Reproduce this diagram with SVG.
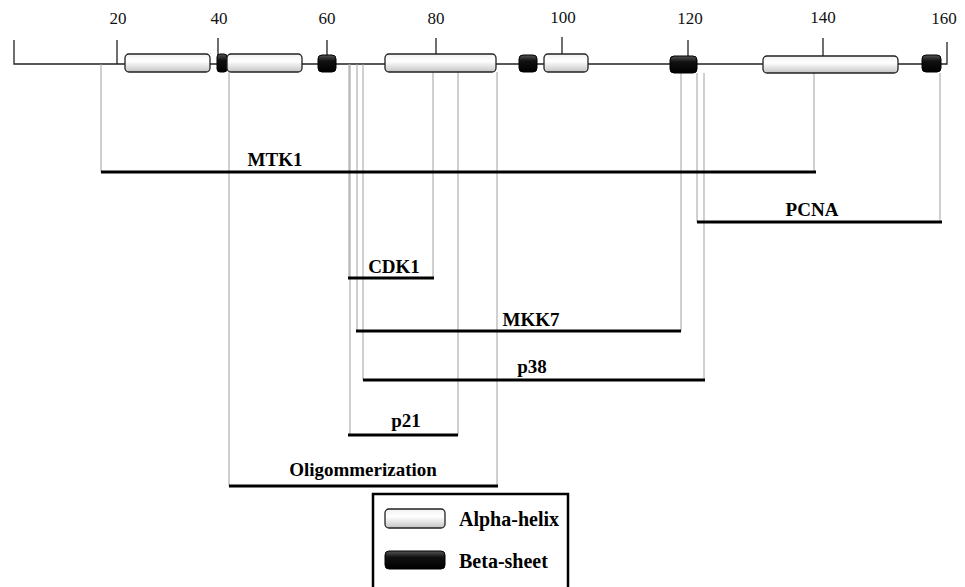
<svg xmlns="http://www.w3.org/2000/svg" width="965" height="587" viewBox="0 0 965 587">
<defs>
<linearGradient id="ga" x1="0" y1="0" x2="0" y2="1">
<stop offset="0" stop-color="#f2f2f2"/><stop offset="0.4" stop-color="#ffffff"/><stop offset="1" stop-color="#c4c4c4"/>
</linearGradient>
<linearGradient id="gb" x1="0" y1="0" x2="0" y2="1">
<stop offset="0" stop-color="#555"/><stop offset="0.35" stop-color="#111"/><stop offset="1" stop-color="#000"/>
</linearGradient>
</defs>
<style>
.ax{stroke:#222;stroke-width:1.3;fill:none}
.tk{font-family:"Liberation Serif","Times New Roman",serif;font-size:17px;fill:#111;text-anchor:middle}
.al{fill:url(#ga);stroke:#222;stroke-width:1.3}
.be{fill:url(#gb);stroke:#000;stroke-width:1}
.vl{stroke:#a0a0a0;stroke-width:1;fill:none}
.bar{stroke:#000;stroke-width:3;fill:none}
.lb{font-family:"Liberation Serif","Times New Roman",serif;font-size:19px;font-weight:bold;fill:#000;text-anchor:middle}
.lg{font-family:"Liberation Serif","Times New Roman",serif;font-size:20px;font-weight:bold;fill:#000}
</style>
<g id="axis">
<path class="ax" d="M14,40 V64 H947 V42"/>
<path class="ax" d="M117,40 V64 M218,38 V55 M327,40 V56 M436,38 V54 M562,37 V54 M688,40 V56 M823,38 V56"/>
<text class="tk" x="118" y="24">20</text>
<text class="tk" x="219" y="24">40</text>
<text class="tk" x="327" y="24">60</text>
<text class="tk" x="436" y="24">80</text>
<text class="tk" x="563" y="23">100</text>
<text class="tk" x="690" y="24">120</text>
<text class="tk" x="823" y="23">140</text>
<text class="tk" x="944" y="24">160</text>
</g>
<g id="connectors">
<path class="vl" d="M101,64 V172 M814,73 V172"/>
<path class="vl" d="M697,73 V222 M940,73 V222"/>
<path class="vl" d="M349,64 V278 M433,72 V278"/>
<path class="vl" d="M357,64 V331 M681,73 V331"/>
<path class="vl" d="M363,64 V380 M704,73 V380"/>
<path class="vl" d="M350,64 V435 M458,72 V435"/>
<path class="vl" d="M229,72 V486 M497,72 V486"/>
</g>
<g id="structure">
<rect class="al" x="125" y="54" width="85" height="18" rx="4"/>
<rect class="be" x="217" y="54" width="10" height="18" rx="3"/>
<rect class="al" x="227" y="54" width="75" height="18" rx="4"/>
<rect class="be" x="318" y="55" width="18" height="17" rx="4"/>
<rect class="al" x="385" y="54" width="111" height="18" rx="4"/>
<rect class="be" x="519" y="55" width="18" height="17" rx="4"/>
<rect class="al" x="544" y="54" width="44" height="18" rx="4"/>
<rect class="be" x="670" y="56" width="27" height="17" rx="4"/>
<rect class="al" x="763" y="56" width="135" height="17" rx="4"/>
<rect class="be" x="922" y="55" width="19" height="17" rx="4"/>
</g>
<g id="MTK1"><path class="bar" d="M101,172 H816"/><text class="lb" x="275" y="166">MTK1</text></g>
<g id="PCNA"><path class="bar" d="M697,222 H942"/><text class="lb" x="812" y="216">PCNA</text></g>
<g id="CDK1"><path class="bar" d="M348,278 H434"/><text class="lb" x="394" y="273">CDK1</text></g>
<g id="MKK7"><path class="bar" d="M356,331 H681"/><text class="lb" x="531" y="326">MKK7</text></g>
<g id="p38"><path class="bar" d="M363,380 H705"/><text class="lb" x="532" y="373">p38</text></g>
<g id="p21"><path class="bar" d="M348,435 H458"/><text class="lb" x="406" y="427">p21</text></g>
<g id="Oligommerization"><path class="bar" d="M229,486 H498"/><text class="lb" x="363" y="476">Oligommerization</text></g>
<g id="legend">
<rect x="373" y="494" width="195" height="96" fill="#fff" stroke="#000" stroke-width="2.5"/>
<rect class="al" x="385" y="509" width="60" height="19" rx="4"/>
<text class="lg" x="459" y="526">Alpha-helix</text>
<rect class="be" x="385" y="551" width="60" height="18" rx="4"/>
<text class="lg" x="459" y="568">Beta-sheet</text>
</g>
</svg>
